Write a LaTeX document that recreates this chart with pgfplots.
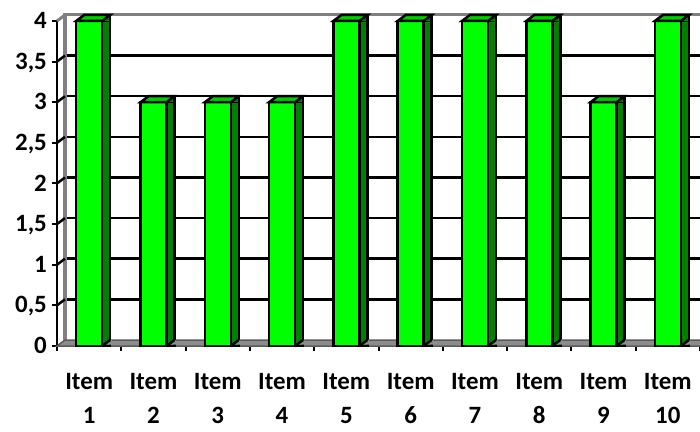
\documentclass[border=0pt]{standalone}
\usepackage{fontspec}
\setmainfont{Carlito}
\usepackage{pgfplots}
\usepackage{pgfplotstable}
\pgfplotsset{compat=1.18}
\definecolor{frontgreen}{RGB}{0,255,0}
\definecolor{sidegreen}{RGB}{0,128,0}
\definecolor{topgreen}{RGB}{0,204,0}
\definecolor{floorgray}{RGB}{140,140,140}
\definecolor{wallgray}{RGB}{128,128,128}

\pgfdeclareplotmark{bartop}{%
  \pgfpathmoveto{\pgfqpoint{13bp}{0bp}}%
  \pgfpathlineto{\pgfqpoint{21bp}{0bp}}%
  \pgfpathlineto{\pgfqpoint{21bp}{6bp}}%
  \pgfpathclose
  \pgfsetfillcolor{sidegreen}\pgfusepath{fill}%
  \pgfpathmoveto{\pgfqpoint{-13bp}{0bp}}%
  \pgfpathlineto{\pgfqpoint{13bp}{0bp}}%
  \pgfpathlineto{\pgfqpoint{21bp}{6bp}}%
  \pgfpathlineto{\pgfqpoint{-5bp}{6bp}}%
  \pgfpathclose
  \pgfsetfillcolor{topgreen}\pgfusepath{fill,stroke}%
  \pgfpathmoveto{\pgfqpoint{21bp}{6bp}}%
  \pgfpathlineto{\pgfqpoint{21bp}{-1bp}}%
  \pgfusepath{stroke}%
}
\pgfdeclareplotmark{barbottom}{%
  \pgfpathmoveto{\pgfqpoint{14.5bp}{1.3bp}}%
  \pgfpathlineto{\pgfqpoint{22.6bp}{1.3bp}}%
  \pgfpathlineto{\pgfqpoint{22.6bp}{6.5bp}}%
  \pgfpathclose
  \pgfsetfillcolor{floorgray}\pgfusepath{fill}%
  \pgfpathmoveto{\pgfqpoint{13bp}{0bp}}%
  \pgfpathlineto{\pgfqpoint{21bp}{6bp}}%
  \pgfusepath{stroke}%
}

\pgfplotstableread{
x y
0 4
1 3
2 3
3 3
4 4
5 4
6 4
7 4
8 3
9 4
}\datatable

\begin{document}
\begin{tikzpicture}
\useasboundingbox (0,0) rectangle (700bp,432bp);
% back wall
\begin{axis}[at={(65bp,92bp)}, anchor=south west, width=643bp, height=325bp,
  scale only axis, xmin=-0.5, xmax=9.5, ymin=0, ymax=4,
  axis line style={draw=none}, xtick=\empty, ytick={0.5,1,...,3.5},
  yticklabels={}, ymajorgrids, grid style={black, line width=2.5bp},
  major tick length=0pt, clip=false]
\addplot[wallgray, line width=3bp] coordinates {(-0.5,0) (-0.5,4) (9.5,4)};
\end{axis}
% front
\begin{axis}[at={(57bp,86bp)}, anchor=south west, width=643bp, height=325bp,
  scale only axis, xmin=-0.5, xmax=9.5, ymin=0, ymax=4, clip=false,
  axis x line*=bottom, axis y line*=left,
  axis line style={-, black, line width=2.5bp},
  tick style={black, line width=2bp}, major tick length=5bp, tick align=outside,
  xtick={-0.5,0.5,...,9.5}, xticklabels={},
  extra x ticks={0,1,...,9},
  extra x tick labels={{Item\\1},{Item\\2},{Item\\3},{Item\\4},{Item\\5},{Item\\6},{Item\\7},{Item\\8},{Item\\9},{Item\\10}},
  extra x tick style={major tick length=0pt,
    xticklabel style={align=center, anchor=north, inner sep=0pt, yshift=-27bp,
      font=\bfseries\fontsize{25}{34}\selectfont}},
  ytick={0,0.5,...,4},
  yticklabel style={anchor=base east, inner sep=0pt, xshift=-5bp, yshift=-7.5bp,
    font=\bfseries\fontsize{25}{30}\selectfont},
  /pgf/number format/.cd, use comma, assume math mode=true]
\addplot[fill=floorgray, draw=wallgray!70!black, line width=1.5bp] coordinates {(-0.5,0) (-0.376,0.0738) (9.624,0.0738) (9.5,0)} -- cycle;
\addplot[wallgray, line width=3bp] coordinates {(-0.5,4) (-0.376,4.0738)};
\addplot[black, line width=2.5bp] coordinates {(-0.5,0.5) (-0.376,0.5738)};
\addplot[black, line width=2.5bp] coordinates {(-0.5,1) (-0.376,1.0738)};
\addplot[black, line width=2.5bp] coordinates {(-0.5,1.5) (-0.376,1.5738)};
\addplot[black, line width=2.5bp] coordinates {(-0.5,2) (-0.376,2.0738)};
\addplot[black, line width=2.5bp] coordinates {(-0.5,2.5) (-0.376,2.5738)};
\addplot[black, line width=2.5bp] coordinates {(-0.5,3) (-0.376,3.0738)};
\addplot[black, line width=2.5bp] coordinates {(-0.5,3.5) (-0.376,3.5738)};
\addplot[ybar, bar width=8bp, bar shift=17bp, fill=sidegreen, draw=black, line width=2.5bp] table[x=x,y=y]{\datatable};
\addplot[ybar, bar width=26bp, bar shift=0bp, fill=frontgreen, draw=black, line width=2.5bp] table[x=x,y=y]{\datatable};
\addplot[only marks, mark=bartop, mark options={draw=black, line width=2.5bp}] table[x=x,y=y]{\datatable};
\addplot[only marks, mark=barbottom, mark options={draw=black, line width=2.5bp}] table[x=x,y expr=0]{\datatable};
\end{axis}
\end{tikzpicture}
\end{document}
